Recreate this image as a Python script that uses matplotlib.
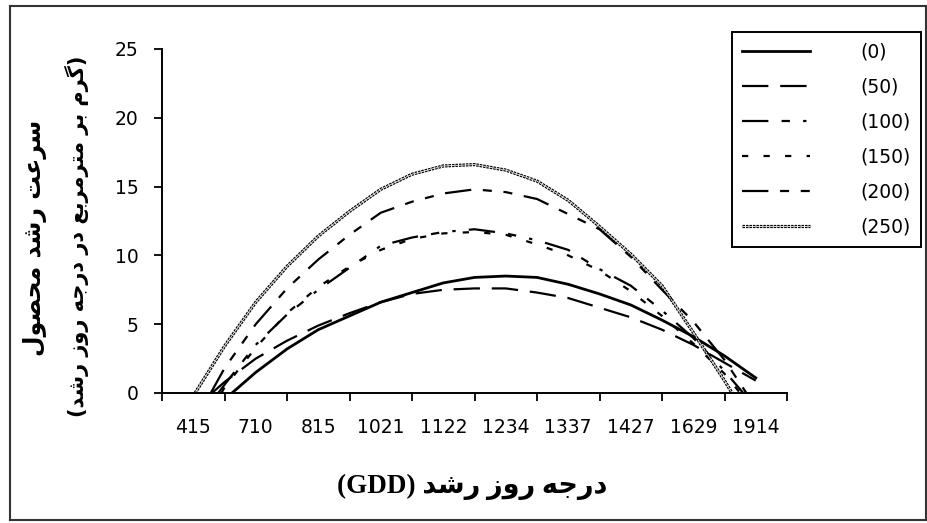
#!/usr/bin/env python3
import numpy as np
import matplotlib
matplotlib.use("Agg")
import matplotlib.pyplot as plt
import matplotlib.patheffects as pe
from matplotlib.lines import Line2D

plt.rcParams["font.family"] = ["DejaVu Sans"]
plt.rcParams["lines.scale_dashes"] = False

WIDTH, HEIGHT, DPI = 927, 523, 100

# category labels on the x axis (GDD)
GDD_LABELS = ["415", "710", "815", "1021", "1122", "1234", "1337", "1427", "1629", "1914"]

# positions are in category units (0 = first label)
pos_0 = [0.62, 1.0, 1.5, 2.0, 2.5, 3.0, 3.5, 4.0, 4.5, 5.0, 5.5, 6.0, 6.5, 7.0, 7.5, 8.0, 8.5, 9.0]
rate_0 = [0, 1.5, 3.2, 4.6, 5.6, 6.6, 7.3, 8.0, 8.4, 8.5, 8.4, 7.9, 7.2, 6.4, 5.3, 4.1, 2.7, 1.1]

pos_50 = [0.3, 0.5, 1.0, 1.5, 2.0, 2.5, 3.0, 3.5, 4.0, 4.5, 5.0, 5.5, 6.0, 6.5, 7.0, 7.5, 8.0, 8.5, 9.0]
rate_50 = [0, 0.8, 2.5, 3.8, 4.9, 5.8, 6.6, 7.2, 7.5, 7.6, 7.6, 7.3, 6.9, 6.2, 5.5, 4.6, 3.5, 2.2, 0.9]

pos_100 = [0.4, 0.5, 1.0, 1.5, 2.0, 2.5, 3.0, 3.5, 4.0, 4.5, 5.0, 5.5, 6.0, 6.5, 7.0, 7.5, 8.0, 8.5, 8.8]
rate_100 = [0, 0.6, 3.5, 5.7, 7.5, 9.1, 10.7, 11.3, 11.7, 11.9, 11.6, 11.1, 10.4, 9.0, 7.8, 6.0, 4.0, 1.6, 0]

pos_150 = [0.45, 0.5, 1.0, 1.5, 2.0, 2.5, 3.0, 3.5, 4.0, 4.5, 5.0, 5.5, 6.0, 6.5, 7.0, 7.5, 8.0, 8.5, 8.75]
rate_150 = [0, 0.4, 3.3, 5.8, 7.7, 9.2, 10.4, 11.2, 11.6, 11.7, 11.5, 10.8, 10.0, 8.9, 7.4, 5.6, 3.6, 1.4, 0]

pos_200 = [0.28, 0.5, 1.0, 1.5, 2.0, 2.5, 3.0, 3.5, 4.0, 4.5, 5.0, 5.5, 6.0, 6.5, 7.0, 7.5, 8.0, 8.5, 8.85]
rate_200 = [0, 1.8, 5.0, 7.6, 9.7, 11.5, 13.1, 13.9, 14.5, 14.8, 14.6, 14.1, 13.0, 11.9, 9.9, 7.5, 5.2, 2.4, 0]

pos_250 = [0.03, 0.5, 1.0, 1.5, 2.0, 2.5, 3.0, 3.5, 4.0, 4.5, 5.0, 5.5, 6.0, 6.5, 7.0, 7.5, 8.0, 8.5, 8.62]
rate_250 = [0, 3.4, 6.6, 9.2, 11.4, 13.2, 14.8, 15.9, 16.5, 16.6, 16.2, 15.4, 14.0, 12.1, 10.1, 7.8, 4.4, 0.9, 0]

SERIES_LABELS = ["(0)", "(50)", "(100)", "(150)", "(200)", "(250)"]

# letter forms: isolated, final, initial, medial (None = joins only to the right)
FORMS = {
    "ا": (0xFE8D, 0xFE8E, None, None),
    "ب": (0xFE8F, 0xFE90, 0xFE91, 0xFE92),
    "ت": (0xFE95, 0xFE96, 0xFE97, 0xFE98),
    "ج": (0xFE9D, 0xFE9E, 0xFE9F, 0xFEA0),
    "ح": (0xFEA1, 0xFEA2, 0xFEA3, 0xFEA4),
    "د": (0xFEA9, 0xFEAA, None, None),
    "ر": (0xFEAD, 0xFEAE, None, None),
    "ز": (0xFEAF, 0xFEB0, None, None),
    "س": (0xFEB1, 0xFEB2, 0xFEB3, 0xFEB4),
    "ش": (0xFEB5, 0xFEB6, 0xFEB7, 0xFEB8),
    "ص": (0xFEB9, 0xFEBA, 0xFEBB, 0xFEBC),
    "ع": (0xFEC9, 0xFECA, 0xFECB, 0xFECC),
    "ل": (0xFEDD, 0xFEDE, 0xFEDF, 0xFEE0),
    "م": (0xFEE1, 0xFEE2, 0xFEE3, 0xFEE4),
    "ه": (0xFEE9, 0xFEEA, 0xFEEB, 0xFEEC),
    "و": (0xFEED, 0xFEEE, None, None),
    "گ": (0xFB92, 0xFB93, 0xFB94, 0xFB95),
}


def _shape(text):
    # join persian letters and reverse for left-to-right drawing
    out = []
    for i, ch in enumerate(text):
        if ch not in FORMS:
            out.append(ch)
            continue
        prev = text[i - 1] if i > 0 else ""
        nxt = text[i + 1] if i + 1 < len(text) else ""
        iso, fin, ini, med = FORMS[ch]
        join_prev = prev in FORMS and FORMS[prev][2] is not None
        join_next = nxt in FORMS and ini is not None
        if join_prev and join_next:
            c = med
        elif join_prev:
            c = fin
        elif join_next:
            c = ini
        else:
            c = iso
        out.append(chr(c))
    return "".join(out)[::-1].translate(str.maketrans("()", ")("))


def _plot():
    fig = plt.figure(figsize=(WIDTH / DPI, HEIGHT / DPI), dpi=DPI)
    ax = fig.add_axes([162 / WIDTH, 1 - 393 / HEIGHT, 625 / WIDTH, 344 / HEIGHT])

    wavy = [pe.Stroke(linewidth=2.3, foreground="black"),
            pe.Stroke(linewidth=0.6, foreground="white")]
    styles = [
        (pos_0, rate_0, dict(linestyle="-", linewidth=2.0)),
        (pos_50, rate_50, dict(linestyle=(0, (19, 8.5)), linewidth=1.6)),
        (pos_100, rate_100, dict(linestyle=(0, (19, 9.5, 6, 9.5, 2.4, 9.5)), linewidth=1.6)),
        (pos_150, rate_150, dict(linestyle=(0, (4.5, 11)), linewidth=1.6)),
        (pos_200, rate_200, dict(linestyle=(0, (19, 8.4, 6.5, 8.4, 6.5, 8.4)), linewidth=1.6)),
        (pos_250, rate_250, dict(linestyle=(0, (1.8, 0.7)), linewidth=2.3, path_effects=wavy)),
    ]
    for (x, y, kw), label in zip(styles, SERIES_LABELS):
        ax.plot(x, y, color="black", label=label, **kw)

    ax.set_xlim(-0.5, 9.5)
    ax.set_ylim(0, 25)
    ax.set_xticks(range(len(GDD_LABELS)))
    ax.set_xticklabels(GDD_LABELS)
    ax.set_xticks(np.arange(-0.5, len(GDD_LABELS)), minor=True)
    ax.set_yticks(range(0, 26, 5))
    ax.tick_params(axis="x", which="major", length=0, pad=18, labelsize=13.5)
    ax.tick_params(axis="x", which="minor", length=5.5, width=1.3)
    ax.tick_params(axis="y", length=5.8, width=1.3, pad=11, labelsize=13.5)
    for s in ("top", "right"):
        ax.spines[s].set_visible(False)
    for s in ("left", "bottom"):
        ax.spines[s].set_linewidth(1.4)

    leg = ax.legend(loc="upper left", bbox_to_anchor=(732 / WIDTH, 1 - 32 / HEIGHT),
                    bbox_transform=fig.transFigure, fancybox=False, edgecolor="black",
                    fontsize=13.5, handlelength=3.63, handletextpad=2.67,
                    labelspacing=0.86, borderpad=0.55, borderaxespad=0)
    leg.get_frame().set_linewidth(1.4)
    leg.get_frame().set_alpha(None)

    fig.text(472 / WIDTH, 1 - 487 / HEIGHT, "(GDD) " + _shape("درجه روز رشد"),
             ha="center", va="center", fontsize=19.5, fontweight="bold",
             family=["Liberation Serif", "DejaVu Sans"])
    fig.text(35 / WIDTH, 1 - 238 / HEIGHT, _shape("سرعت رشد محصول"),
             ha="center", va="center", rotation=90, fontsize=17, fontweight="bold")
    fig.text(77 / WIDTH, 1 - 236 / HEIGHT, _shape("(گرم بر مترمربع در درجه روز رشد)"),
             ha="center", va="center", rotation=90, fontsize=15, fontweight="bold")

    # outer frame of the chart
    for xs, ys in (([10, 926], [6, 6]), ([10, 10], [6, 520]), ([10, 926], [520, 520]), ([926, 926], [6, 520])):
        fig.add_artist(Line2D([x / WIDTH for x in xs], [1 - y / HEIGHT for y in ys],
                              color="#333333", linewidth=1.5))

    fig.savefig("out.png", dpi=DPI)


if __name__ == "__main__":
    _plot()
